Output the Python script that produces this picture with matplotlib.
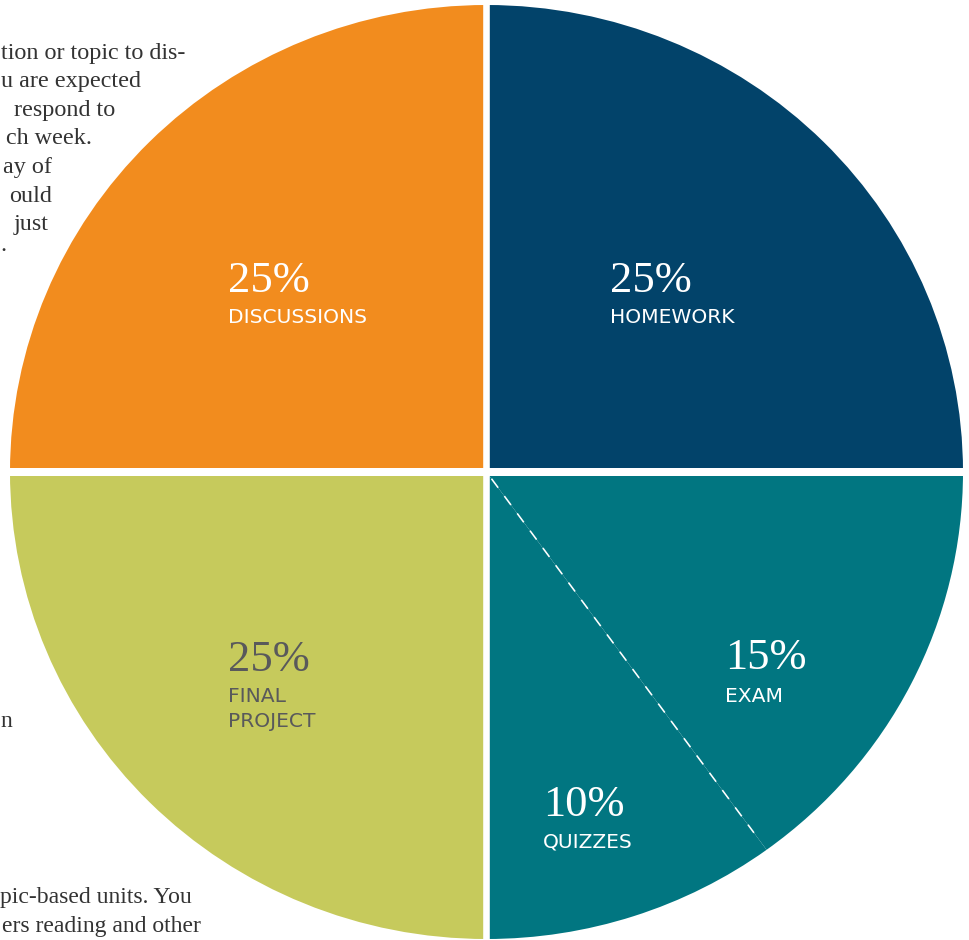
import matplotlib
matplotlib.use("Agg")
import matplotlib.pyplot as plt
import numpy as np

plt.rcParams['lines.scale_dashes'] = False

# ---------------- data ----------------
categories = ["HOMEWORK", "EXAM", "QUIZZES", "FINAL\nPROJECT", "DISCUSSIONS"]
values = [25, 15, 10, 25, 25]
slice_colors = ["#02436A", "#017681", "#017681", "#C6CA5C", "#F28C1E"]
label_colors = ["white", "white", "white", "#59595B", "white"]

bg_lines_top = ["tion or topic to dis-", "u are expected", "respond to",
                "ch week.", "ay of", "ould", "just", "."]
bg_lines_bottom = ["n", "pic-based units. You", "ers reading and other"]

# ---------------- layout (pixels) ----------------
W, H = 969, 940
pie_left, pie_right, pie_top, pie_bottom = 10, 963, 5, 939
bg_top_x = [1, 1, 14, 6, 3, 9, 14, 0]
bg_top_y = [58.5, 87.2, 115.7, 144.2, 172.8, 201.5, 230.2, 251]
bg_bot_x = [0, 0, 2]
bg_bot_y = [727, 903, 932]
# label anchor (left x, baseline of percentage, baseline of first caption line)
label_pos = [(610, 292, 323), (725, 669, 702), (543, 816, 847),
             (228, 671, 702), (228, 292, 323)]

fig = plt.figure(figsize=(W / 100, H / 100), dpi=100)
fig.patch.set_facecolor("white")

# background text axes
bg = fig.add_axes([0, 0, 1, 1], zorder=0)
bg.set_xlim(0, W)
bg.set_ylim(H, 0)
bg.axis("off")
serif = ["Liberation Serif", "DejaVu Serif"]
for s, x, y in zip(bg_lines_top, bg_top_x, bg_top_y):
    bg.text(x, y, s, family=serif, fontsize=17.4, color="#333333",
            ha="left", va="baseline")
for s, x, y in zip(bg_lines_bottom, bg_bot_x, bg_bot_y):
    bg.text(x, y, s, family=serif, fontsize=17.0, color="#333333",
            ha="left", va="baseline")

# pie axes
pax = fig.add_axes([pie_left / W, (H - pie_bottom) / H,
                    (pie_right - pie_left) / W, (pie_bottom - pie_top) / H],
                   zorder=1)
pax.patch.set_facecolor("none")
pax.pie(values, colors=slice_colors, startangle=90, counterclock=False,
        radius=1, wedgeprops=dict(linewidth=0))
pax.set_aspect("auto")
pax.set_xlim(-1, 1)
pax.set_ylim(-1, 1)
pax.axis("off")

# overlay axes for gaps, divider and labels
ov = fig.add_axes([0, 0, 1, 1], zorder=2)
ov.patch.set_facecolor("none")
ov.set_xlim(0, W)
ov.set_ylim(H, 0)
ov.axis("off")

# dashed divider between exam and quizzes (converted to pixel coordinates)
theta = np.deg2rad(90 - 360 * (values[0] + values[1]) / sum(values))
r = np.array([0.018, 0.955])
pts = pax.transData.transform(np.column_stack([r * np.cos(theta), r * np.sin(theta)]))
px = pts[:, 0]
py = H - pts[:, 1]
ov.plot(px, py, color="white", lw=1.15, linestyle=(0, (8.0, 7.5)),
        dash_capstyle="butt")

ov.plot([486, 486], [0, H], color="white", lw=6.6 * 0.72, solid_capstyle="butt")
ov.plot([5, W - 3], [472.3, 472.3], color="white", lw=8 * 0.72,
        solid_capstyle="butt")

for cat, v, col, (x, y1, y2) in zip(categories, values, label_colors, label_pos):
    ov.text(x, y1, f"{v}%", family=serif, fontsize=32.0, color=col,
            ha="left", va="baseline")
    for i, line in enumerate(cat.split("\n")):
        ov.text(x, y2 + i * 25, line, family=["DejaVu Sans"], fontsize=14.6,
                color=col, ha="left", va="baseline")

fig.savefig("out.png", dpi=100, facecolor="white")
